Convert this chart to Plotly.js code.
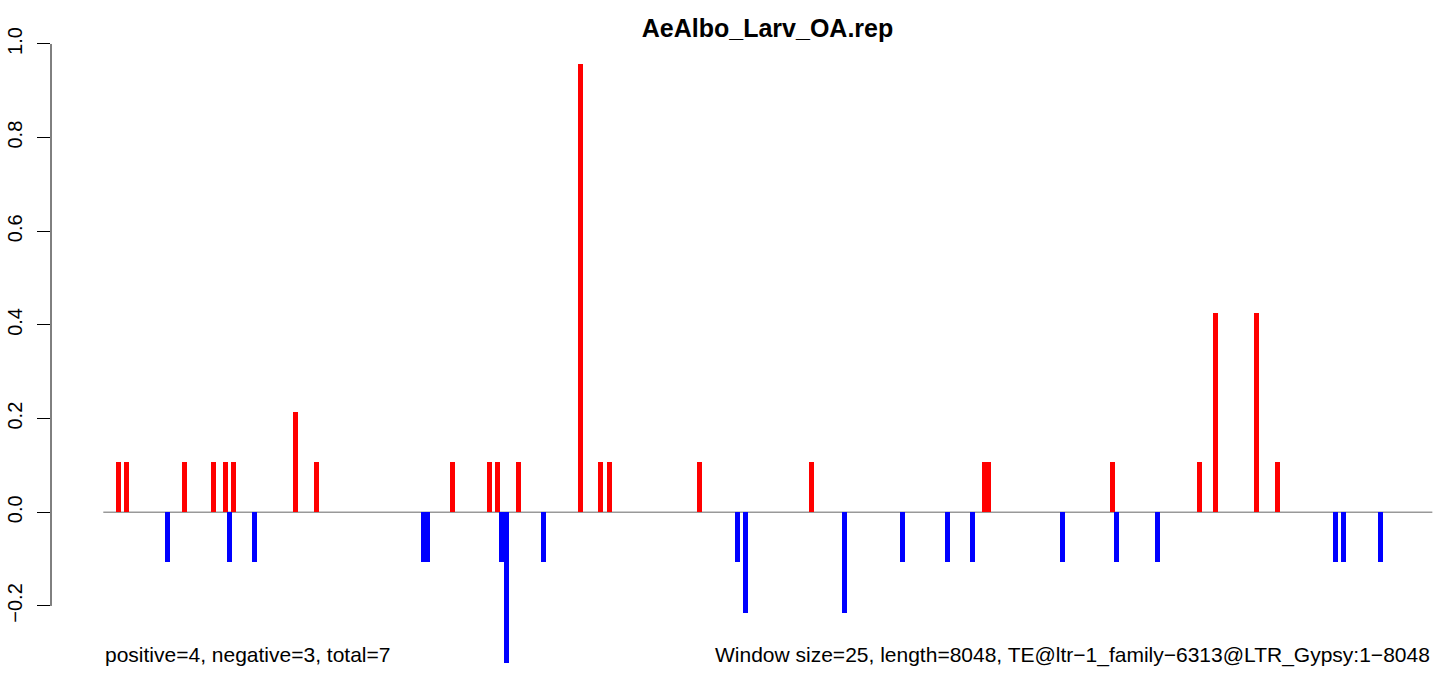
<!DOCTYPE html>
<html>
<head>
<meta charset="utf-8">
<script src="https://cdn.plot.ly/plotly-3.0.1.min.js"></script>
<style>html,body{margin:0;padding:0;background:#fff;}#chart{width:1444px;height:673px;}</style>
</head>
<body>
<div id="chart"></div>
<script>
// Window positions (bp) and scores
var posX = [92, 140, 492, 667, 740, 788, 1164, 1291, 2115, 2339, 2387, 2514, 2890, 3011, 3065, 3610, 4288, 5336, 5360, 6111, 6638, 6735, 6983, 7110];
var posY = [0.107, 0.107, 0.107, 0.107, 0.107, 0.107, 0.214, 0.107, 0.107, 0.107, 0.107, 0.107, 0.957, 0.107, 0.107, 0.107, 0.107, 0.107, 0.107, 0.107, 0.107, 0.426, 0.426, 0.107];
var negX = [389, 764, 916, 1939, 1963, 2411, 2442, 2666, 3840, 3889, 4488, 4839, 5112, 5263, 5808, 6135, 6384, 7461, 7510, 7734];
var negY = [-0.107, -0.107, -0.107, -0.107, -0.107, -0.107, -0.321, -0.107, -0.107, -0.214, -0.214, -0.107, -0.107, -0.107, -0.107, -0.107, -0.107, -0.107, -0.107, -0.107];
var seqLength = 8048;
var yTickVals = [-0.2, 0, 0.2, 0.4, 0.6, 0.8, 1.0];
var yTickText = ["\u22120.2", "0.0", "0.2", "0.4", "0.6", "0.8", "1.0"];
var titleText = "AeAlbo_Larv_OA.rep";
var leftNote = "positive=4, negative=3, total=7";
var rightNote = "Window size=25, length=8048, TE@ltr\u22121_family\u22126313@LTR_Gypsy:1\u22128048";

var FONT = "Liberation Sans, Arial, Helvetica, sans-serif";

var traces = [
  {type: "bar", x: posX, y: posY, width: 30, marker: {color: "#FF0000", line: {width: 0}}, hoverinfo: "x+y"},
  {type: "bar", x: negX, y: negY, width: 30, marker: {color: "#0000FF", line: {width: 0}}, hoverinfo: "x+y"}
];

var layout = {
  width: 1444, height: 673,
  margin: {l: 51, r: 4, t: 40, b: 8, pad: 0},
  paper_bgcolor: "#fff", plot_bgcolor: "#fff",
  showlegend: false,
  barmode: "overlay",
  bargap: 0,
  font: {family: FONT, color: "#000"},
  title: {
    text: "<b>" + titleText + "</b>",
    font: {family: FONT, size: 25, color: "#000"},
    x: 767.5 / 1444, xanchor: "center", xref: "container",
    y: 1 - 28 / 673, yanchor: "middle", yref: "container"
  },
  xaxis: {
    range: [-316.7, 8094.4], visible: false, showgrid: false, zeroline: false, fixedrange: true
  },
  yaxis: {
    range: [-0.3261, 1.0085],
    showgrid: false, zeroline: false, showline: false,
    tickmode: "array", tickvals: yTickVals, ticktext: yTickText,
    ticks: "outside", ticklen: 13, tickwidth: 1, tickcolor: "#000",
    tickangle: -90, ticklabelstandoff: 7,
    tickfont: {family: FONT, size: 20, color: "#000"}
  },
  shapes: [
    {type: "line", xref: "x", yref: "y", x0: 0, x1: seqLength, y0: 0, y1: 0, layer: "below",
     line: {color: "#999999", width: 1.5}},
    {type: "line", xref: "paper", yref: "y", x0: 0, x1: 0, y0: -0.2, y1: 1.0,
     line: {color: "#000", width: 1}}
  ],
  annotations: [
    {text: leftNote, xref: "x", yref: "y", x: 0, y: -0.3047, xanchor: "left", yanchor: "middle",
     showarrow: false, font: {family: FONT, size: 21, color: "#000"}},
    {text: rightNote, xref: "x", yref: "y", x: seqLength, y: -0.3047, xanchor: "right", yanchor: "middle",
     showarrow: false, font: {family: FONT, size: 21, color: "#000"}}
  ]
};

Plotly.newPlot("chart", traces, layout, {displayModeBar: false, staticPlot: true});
</script>
</body>
</html>
